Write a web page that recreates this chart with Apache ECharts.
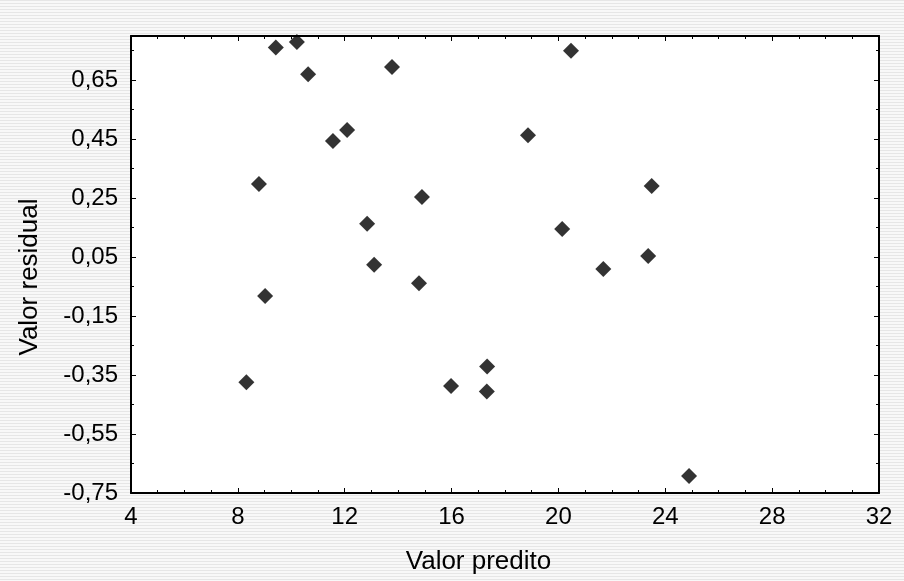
<!DOCTYPE html>
<html>
<head>
<meta charset="utf-8">
<script src="https://cdn.jsdelivr.net/npm/echarts@6/dist/echarts.min.js"></script>
<style>
    html, body { margin: 0; padding: 0; }
    body {
        width: 904px; height: 581px;
        background-color: #f8f8f8;
        background-image: repeating-linear-gradient(180deg, #e6e6e6 0px, #e6e6e6 1px, transparent 1px, transparent 3px);
    }
    #residuos { width: 904px; height: 581px; }
</style>
</head>
<body>
<div id="residuos"></div>
<script>
// valores
var valorPredito = [9.42, 10.21, 10.63, 13.77, 12.09, 11.56, 8.79, 18.86, 20.47, 14.89, 12.84, 13.10,
    20.14, 23.49, 23.36, 21.68, 14.78, 9.02, 8.32, 15.98, 17.33, 17.32, 24.89];
var valorResidual = [0.761, 0.780, 0.670, 0.695, 0.481, 0.444, 0.298, 0.463, 0.750, 0.254, 0.163, 0.024,
    0.145, 0.291, 0.054, 0.010, -0.039, -0.082, -0.374, -0.387, -0.321, -0.406, -0.692];
var xTicks = [4, 8, 12, 16, 20, 24, 28, 32];
var yTicks = [-0.75, -0.55, -0.35, -0.15, 0.05, 0.25, 0.45, 0.65];

var pontos = valorPredito.map(function (x, i) { return [x, valorResidual[i]]; });

var fonte = 'Liberation Sans';

function eixoX(pos, mostrar) {
    return {
        type: 'value',
        position: pos,
        min: xTicks[0],
        max: xTicks[xTicks.length - 1],
        interval: 4,
        axisLine: { onZero: false, lineStyle: { color: '#000', width: 2 } },
        axisTick: { inside: true, length: 5, lineStyle: { color: '#000' } },
        minorTick: { show: true, splitNumber: 4, length: 3, lineStyle: { color: '#000' } },
        splitLine: { show: false },
        axisLabel: { show: mostrar, color: '#000', fontSize: 24, fontFamily: fonte, margin: 12 },
        name: mostrar ? 'Valor predito' : '',
        nameLocation: 'middle',
        nameGap: 56,
        nameTextStyle: { color: '#000', fontSize: 26, fontFamily: fonte, padding: [0, 53, 0, 0] }
    };
}

function eixoY(pos, mostrar) {
    return {
        type: 'value',
        position: pos,
        min: yTicks[0],
        max: 0.80,
        interval: 0.2,
        axisLine: { onZero: false, lineStyle: { color: '#000', width: 2 } },
        axisTick: { inside: true, length: 5, lineStyle: { color: '#000' } },
        minorTick: { show: true, splitNumber: 2, length: 3, lineStyle: { color: '#000' } },
        splitLine: { show: false },
        axisLabel: {
            show: mostrar, color: '#000', fontSize: 24, fontFamily: fonte, margin: 13,
            showMaxLabel: false,
            formatter: function (v) { return v.toFixed(2).replace('.', ','); }
        },
        name: mostrar ? 'Valor residual' : '',
        nameLocation: 'middle',
        nameGap: 88,
        nameTextStyle: { color: '#000', fontSize: 26, fontFamily: fonte, padding: [0, 25, 0, 0] }
    };
}

var grafico = echarts.init(document.getElementById('residuos'));

var opcao = {
    backgroundColor: 'transparent',
    animation: false,
    grid: {
        left: 131, right: 25, top: 36, bottom: 88,
        show: true, backgroundColor: '#fff', borderWidth: 0
    },
    xAxis: [eixoX('bottom', true), eixoX('top', false)],
    yAxis: [eixoY('left', true), eixoY('right', false)],
    series: [{
        type: 'scatter',
        symbol: 'diamond',
        symbolSize: 16,
        itemStyle: { color: '#000' },
        data: pontos
    }]
};

grafico.setOption(opcao);
</script>
</body>
</html>
